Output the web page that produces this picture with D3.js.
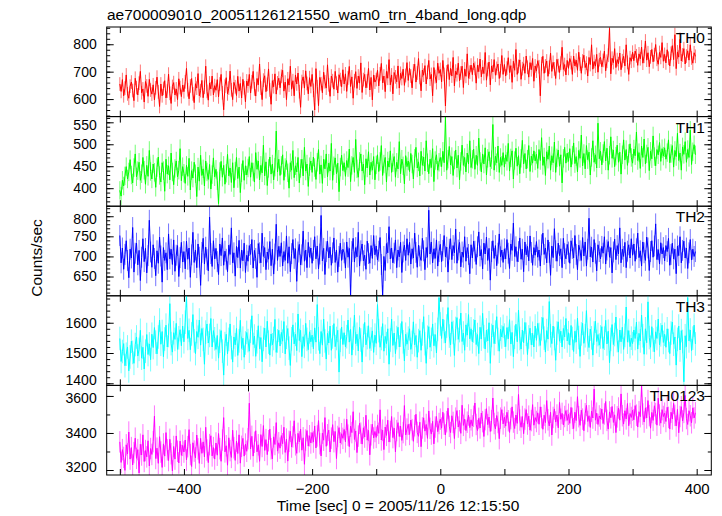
<!DOCTYPE html>
<html><head><meta charset="utf-8">
<script src="https://cdn.jsdelivr.net/npm/d3@7"></script>
<style>body{margin:0;background:#fff}text{font-family:"Liberation Sans",Arial,Helvetica,sans-serif;fill:#000}</style>
</head><body><svg id="c" width="722" height="516"></svg>
<script>
const chartTitle = "ae700009010_20051126121550_wam0_trn_4band_long.qdp";
const xLabel = "Time [sec] 0 = 2005/11/26 12:15:50";
const yLabel = "Counts/sec";
const tStart = -500, binSize = 2;
const seriesNames = ["TH0","TH1","TH2","TH3","TH0123"];
const seriesColors = ["#ff0000","#00ff00","#0000ff","#00ffff","#ff00ff"];
const errHalf = [25,21,26,39,58];
const yDomains = [[536,863],[359,563],[602,825],[1393,1689],[3173,3657]];
const yMajorStep = [100,50,50,100,200];
const yMinorStep = [20,10,10,20,100];
const xDomain = [-520.5,422.8];
const xTicks = [-500,-400,-300,-200,-100,0,100,200,300,400];
const xTickLabels = [-400,-200,0,200,400];

const th0 = [655,628,671,612,640,688,619,603,647,662,631,594,676,642,615,658,701,623,637,589,664,648,610,672,633,
618,652,597,641,680,626,573,655,612,639,667,604,629,691,621,584,646,660,615,637,598,674,642,609,651,
627,663,712,634,601,648,675,619,587,656,640,693,612,631,668,605,643,720,628,596,659,637,684,615,649,
632,671,608,655,690,623,561,647,678,619,640,702,634,598,661,645,613,683,629,657,604,672,641,590,666,
648,690,622,663,701,637,611,675,652,728,640,598,669,685,627,654,710,633,581,667,645,692,618,659,676,
641,683,705,629,662,598,674,651,720,636,667,612,688,655,695,627,570,664,681,640,703,657,619,678,646,
690,632,560,711,645,576,679,656,623,698,663,640,725,652,610,684,667,636,701,658,622,689,671,645,707,
655,692,628,677,719,646,681,603,667,700,639,684,658,732,624,671,690,641,666,712,633,679,597,688,662,
671,705,648,692,730,659,684,627,701,676,744,652,688,619,697,681,663,721,640,694,675,709,650,686,733,
668,712,684,641,703,727,662,695,748,679,630,706,687,722,655,698,741,673,690,612,715,682,660,731,694,
708,663,741,690,575,699,726,671,712,684,752,648,702,689,731,667,695,720,642,710,683,765,676,698,724,
689,731,712,658,724,700,746,681,717,693,770,669,708,735,652,721,699,744,687,712,728,675,703,759,690,
726,684,713,751,697,722,661,738,705,781,690,719,743,672,711,729,694,757,716,680,733,707,748,665,721,
702,740,718,612,729,756,694,721,739,683,716,768,701,734,710,675,745,722,697,731,789,708,726,688,741,
712,748,733,690,757,721,742,705,771,728,694,739,760,715,731,684,752,726,798,709,737,720,763,698,744,
752,718,741,775,703,738,760,858,692,749,733,784,715,744,729,768,707,740,756,721,798,734,690,751,738,
771,740,775,758,723,765,747,790,731,756,812,742,769,718,754,781,736,762,799,745,727,770,752,806,738,
763,732,780,749,721,767,795,744,835,711,772,753,818,739,761,784,728,757,776,742,798,750,731,769,756];

const th1 = [395,382,418,405,428,449,421,437,465,430,412,447,478,426,440,459,418,433,470,441,409,452,427,486,438,
421,455,436,402,447,471,429,414,458,440,393,466,432,451,419,480,437,408,445,462,426,441,490,417,449,
434,411,452,427,468,396,440,423,459,433,381,448,416,475,429,444,405,462,437,420,454,398,431,469,426,
443,417,365,438,461,425,452,409,434,477,428,446,413,458,401,439,470,422,448,390,435,463,418,451,430,
446,472,425,458,437,414,481,443,462,419,452,435,498,428,460,406,445,471,432,455,419,448,530,437,466,
429,452,476,418,447,463,435,400,458,441,486,424,451,437,470,412,445,466,428,493,439,455,404,449,462,
436,471,447,420,459,488,432,453,411,466,444,478,426,457,439,502,418,451,469,433,457,392,448,475,440,
458,427,463,447,489,415,452,470,436,511,444,425,461,478,439,455,408,467,446,483,430,459,441,472,419,
453,476,438,461,497,429,455,470,414,462,448,485,436,458,472,425,459,444,506,433,466,451,410,474,449,
462,438,479,455,421,468,493,446,460,428,484,452,471,439,508,458,433,466,447,490,415,463,476,441,459,
470,449,484,458,562,441,466,495,453,472,429,464,487,446,475,419,461,498,452,470,437,480,455,508,447,
466,489,443,475,452,514,461,437,478,455,492,430,468,483,449,465,545,441,473,458,496,436,470,452,481,
448,476,461,502,439,469,485,421,463,491,450,474,433,468,509,455,479,444,466,497,438,473,457,485,462,
477,445,488,463,515,452,471,429,483,466,496,441,474,458,505,436,469,487,450,476,412,468,493,457,480,
461,490,448,475,503,456,472,437,486,468,521,451,479,444,497,465,482,430,470,508,459,476,446,548,467,
484,453,479,506,462,491,441,475,517,468,487,449,473,498,459,482,432,476,510,464,488,452,479,501,470,
457,489,474,528,463,481,445,496,470,512,455,478,493,440,484,467,519,472,451,488,476,504,461,490,473,
492,466,481,510,458,479,497,448,486,472,525,463,480,441,494,477,506,459,488,470,532,454,483,499,476];

const th2 = [752,684,721,668,705,739,690,647,718,696,772,661,708,733,679,715,640,698,744,687,720,659,702,790,711,
673,729,695,652,714,683,748,701,636,722,690,709,667,756,694,718,680,741,663,703,727,650,697,735,686,
712,669,738,693,721,648,704,760,685,716,672,731,698,628,710,745,681,723,692,664,798,707,675,739,694,
720,687,655,731,702,746,678,713,693,662,728,705,771,684,709,651,725,697,740,671,716,689,733,660,703,
688,727,705,742,671,715,695,648,732,709,684,758,700,722,667,711,693,737,677,718,656,706,780,690,725,
700,734,676,712,690,751,683,724,662,707,742,695,719,638,711,730,679,704,763,688,716,672,735,698,721,
683,715,749,694,726,669,706,802,689,720,655,712,738,696,723,678,709,746,685,716,661,700,733,690,718,
709,671,736,698,720,604,712,745,686,722,699,760,676,714,731,689,703,668,738,707,683,727,695,752,704,
726,691,713,747,680,602,700,665,732,709,774,694,721,684,708,741,672,716,699,735,660,711,728,690,744,
703,735,681,719,696,758,710,673,728,701,690,745,714,667,722,698,815,706,736,684,719,695,741,676,712,
730,687,715,752,699,723,661,718,744,692,727,709,768,683,716,735,674,711,698,749,688,722,705,657,729,
696,738,713,680,724,761,701,717,669,733,706,748,690,720,641,712,739,695,727,677,708,756,699,716,685,
719,694,742,708,670,731,715,783,700,724,687,712,746,693,718,662,736,704,725,689,751,710,678,722,703,
737,698,716,676,729,758,705,721,684,741,710,653,726,697,769,714,688,733,702,719,672,745,707,694,730,
711,683,739,720,696,752,705,667,728,714,690,747,701,736,676,718,795,699,723,686,742,708,664,729,712,
694,725,708,749,681,716,737,698,722,659,711,743,692,727,706,771,684,718,700,735,672,713,729,696,744,
703,731,688,719,758,697,714,676,736,709,690,748,721,665,712,739,698,726,781,692,717,681,734,706,722,
689,727,712,745,678,705,733,694,718,657,726,702,749,684,715,738,696,721,670,709,742,691,718,700,712];

const th3 = [1548,1472,1505,1531,1458,1496,1520,1441,1487,1539,1502,1466,1528,1553,1490,1512,1575,1483,1519,1447,1506,1561,1495,1530,1478,
1562,1518,1584,1536,1497,1553,1609,1529,1571,1488,1546,1592,1520,1558,1663,1531,1503,1567,1545,1598,1512,1550,1577,1524,1589,
1537,1602,1690,1548,1575,1511,1563,1627,1540,1498,1571,1552,1609,1526,1581,1545,1463,1569,1596,1533,1558,1614,1520,1574,1547,
1512,1558,1483,1539,1574,1506,1427,1531,1562,1497,1545,1596,1518,1470,1553,1527,1581,1492,1540,1608,1515,1549,1486,1533,1568,
1541,1506,1572,1623,1528,1556,1489,1537,1590,1514,1551,1471,1545,1582,1520,1605,1536,1493,1563,1527,1548,1611,1502,1540,1575,
1523,1568,1539,1604,1497,1552,1581,1516,1459,1547,1593,1530,1562,1508,1629,1541,1575,1488,1554,1522,1598,1545,1511,1570,1537,
1559,1514,1583,1536,1660,1547,1498,1571,1526,1612,1540,1480,1565,1533,1589,1509,1553,1597,1521,1548,1575,1437,1542,1586,1528,
1567,1520,1554,1609,1536,1578,1493,1549,1625,1531,1562,1507,1585,1543,1470,1558,1601,1527,1551,1590,1515,1546,1573,1502,1559,
1532,1660,1574,1519,1548,1597,1506,1555,1531,1580,1463,1543,1612,1525,1566,1498,1551,1585,1520,1559,1604,1537,1474,1562,1529,
1549,1580,1512,1535,1603,1527,1558,1486,1541,1574,1509,1563,1620,1531,1466,1552,1587,1519,1545,1596,1524,1561,1500,1578,1683,
1596,1548,1612,1571,1533,1589,1650,1556,1527,1603,1568,1492,1581,1617,1545,1574,1632,1538,1566,1509,1593,1559,1627,1547,1580,
1537,1573,1609,1528,1561,1498,1585,1546,1631,1554,1513,1576,1540,1600,1466,1558,1592,1531,1569,1620,1545,1506,1579,1553,1588,
1559,1521,1584,1547,1610,1530,1568,1488,1552,1595,1537,1642,1548,1513,1576,1534,1601,1562,1495,1553,1582,1527,1565,1520,1589,
1542,1598,1561,1525,1580,1617,1549,1503,1574,1546,1670,1557,1531,1589,1548,1476,1566,1603,1539,1572,1520,1581,1553,1614,1540,
1567,1526,1591,1548,1505,1572,1536,1615,1551,1489,1563,1598,1532,1557,1640,1543,1518,1579,1550,1493,1566,1605,1538,1561,1526,
1553,1587,1515,1549,1608,1530,1572,1468,1545,1594,1528,1561,1619,1541,1503,1576,1537,1585,1512,1558,1652,1536,1574,1521,1549,
1531,1576,1548,1602,1513,1565,1540,1625,1557,1496,1580,1534,1669,1551,1519,1587,1543,1504,1570,1548,1612,1527,1560,1592,1535,
1562,1519,1580,1541,1498,1566,1602,1529,1553,1460,1545,1589,1510,1574,1538,1405,1557,1521,1683,1540,1576,1508,1549,1592,1530];

const th0123 = [3352,3241,3310,3268,3198,3336,3287,3405,3259,3321,3227,3294,3372,3263,3310,3184,3339,3281,3390,3246,3305,3271,3358,3222,3316,
3284,3353,3491,3262,3318,3236,3380,3297,3214,3341,3275,3402,3309,3251,3366,3288,3195,3327,3259,3384,3301,3238,3356,3279,3333,
3297,3362,3254,3326,3418,3283,3219,3347,3302,3265,3389,3314,3236,3371,3290,3352,3271,3431,3308,3240,3337,3385,3276,3321,3259,
3346,3280,3397,3315,3247,3362,3483,3298,3331,3226,3374,3305,3268,3415,3320,3252,3356,3289,3390,3237,3328,3371,3275,3340,3301,
3369,3561,3314,3382,3275,3350,3412,3298,3336,3247,3391,3327,3440,3306,3364,3283,3358,3421,3315,3260,3379,3338,3456,3302,3347,
3318,3386,3342,3431,3295,3367,3248,3355,3409,3324,3379,3466,3336,3290,3398,3352,3421,3307,3374,3231,3362,3413,3329,3385,3346,
3402,3351,3438,3319,3384,3467,3342,3276,3399,3361,3483,3328,3390,3415,3297,3372,3445,3353,3408,3262,3381,3429,3346,3396,3371,
3419,3352,3474,3388,3326,3437,3402,3515,3365,3411,3294,3383,3452,3399,3340,3428,3378,3496,3361,3414,3282,3390,3447,3373,3408,
3376,3441,3398,3525,3362,3415,3310,3432,3387,3469,3351,3408,3489,3375,3426,3298,3413,3456,3381,3437,3360,3402,3548,3389,3421,
3447,3392,3470,3418,3355,3439,3501,3403,3382,3458,3326,3427,3482,3410,3446,3371,3519,3425,3394,3463,3341,3432,3489,3407,3451,
3475,3426,3512,3448,3389,3461,3534,3436,3402,3493,3457,3370,3480,3521,3432,3466,3398,3550,3441,3475,3413,3458,3497,3429,3471,
3438,3490,3562,3446,3413,3479,3427,3508,3461,3381,3472,3531,3445,3486,3408,3467,3589,3451,3422,3494,3457,3369,3480,3526,3449,
3485,3437,3512,3466,3403,3478,3541,3459,3424,3497,3452,3608,3470,3431,3489,3396,3475,3526,3448,3491,3415,3467,3553,3442,3483,
3462,3509,3447,3541,3483,3420,3496,3456,3575,3471,3438,3512,3389,3484,3530,3459,3497,3428,3565,3474,3506,3443,3489,3521,3468,
3501,3452,3538,3479,3424,3512,3467,3596,3488,3441,3523,3475,3412,3504,3549,3462,3493,3430,3518,3481,3637,3469,3507,3446,3492,
3476,3529,3451,3503,3570,3468,3421,3514,3482,3543,3457,3498,3402,3487,3535,3469,3611,3493,3448,3520,3476,3559,3439,3505,3484,
3523,3471,3548,3496,3432,3515,3488,3654,3502,3459,3536,3481,3575,3494,3426,3511,3468,3547,3505,3442,3588,3497,3453,3526,3489,
3507,3462,3539,3484,3421,3512,3476,3560,3495,3438,3527,3401,3489,3542,3465,3511,3603,3478,3446,3520,3493,3455,3536,3481,3509];

const allSeries = [th0, th1, th2, th3, th0123];

const svg = d3.select("#c");
const L = 106.7, R = 711.3, T = 27, B = 475;
const H = (B - T) / allSeries.length;
const x = d3.scaleLinear().domain(xDomain).range([L, R]);
const FONT = '"Liberation Sans",Arial,Helvetica,sans-serif';

function styleAxis(s, size) {
  s.attr("font-size", null).attr("font-family", null);
  s.select(".domain").remove();
  s.selectAll("line").attr("stroke", "#000");
  s.selectAll("text").attr("fill", "#000").style("font-family", FONT).style("font-size", size);
}

allSeries.forEach((vals, k) => {
  const top = T + k * H, bot = top + H;
  const y = d3.scaleLinear().domain(yDomains[k]).range([bot, top]);
  const pts = vals.map((v, i) => ({t: tStart + i * binSize, v}));
  const cid = "clip" + k;
  svg.append("clipPath").attr("id", cid).append("rect")
    .attr("x", L).attr("y", top).attr("width", R - L).attr("height", H);
  const g = svg.append("g").attr("clip-path", `url(#${cid})`);
  const e = errHalf[k];
  g.selectAll("line.err").data(pts).join("line").attr("class", "err")
    .attr("x1", d => x(d.t)).attr("x2", d => x(d.t))
    .attr("y1", d => y(d.v - e)).attr("y2", d => y(d.v + e))
    .attr("stroke", seriesColors[k]).attr("stroke-opacity", 0.55).attr("stroke-width", 1);
  g.append("path").datum(pts)
    .attr("d", d3.line().x(d => x(d.t)).y(d => y(d.v)))
    .attr("fill", "none").attr("stroke", seriesColors[k]).attr("stroke-width", 1);

  const [y0, y1] = yDomains[k];
  const majors = d3.range(Math.ceil(y0 / yMajorStep[k]) * yMajorStep[k], y1 + 1e-9, yMajorStep[k]);
  const minors = d3.range(Math.ceil(y0 / yMinorStep[k]) * yMinorStep[k], y1 + 1e-9, yMinorStep[k]);
  const ax = svg.append("g");
  const gl = ax.append("g").attr("transform", `translate(${L},0)`)
    .call(d3.axisLeft(y).tickValues(majors).tickSizeInner(-7).tickSizeOuter(0).tickPadding(10).tickFormat(d3.format("d")));
  const glm = ax.append("g").attr("transform", `translate(${L},0)`)
    .call(d3.axisLeft(y).tickValues(minors).tickSizeInner(-3.5).tickSizeOuter(0).tickFormat(""));
  const gr = ax.append("g").attr("transform", `translate(${R},0)`)
    .call(d3.axisLeft(y).tickValues(majors).tickSizeInner(7).tickSizeOuter(0).tickFormat(""));
  const grm = ax.append("g").attr("transform", `translate(${R},0)`)
    .call(d3.axisLeft(y).tickValues(minors).tickSizeInner(3.5).tickSizeOuter(0).tickFormat(""));
  const gt = ax.append("g").attr("transform", `translate(0,${top})`)
    .call(d3.axisTop(x).tickValues(xTicks).tickSizeInner(-6).tickSizeOuter(0).tickFormat(""));
  const gb = ax.append("g").attr("transform", `translate(0,${bot})`)
    .call(d3.axisBottom(x).tickValues(xTicks).tickSizeInner(-6).tickSizeOuter(0).tickFormat(""));
  [gl, glm, gr, grm, gt, gb].forEach(s => styleAxis(s, "14px"));
  // keep labels sitting on a panel boundary clear of the neighbouring panel's label
  gl.selectAll("text").attr("y", function(d) {
    const py = y(d);
    if (py > bot - 5) return -3;
    if (py < top + 12) return 2.5;
    return 0;
  });

  svg.append("rect").attr("x", L).attr("y", top).attr("width", R - L).attr("height", H)
    .attr("fill", "none").attr("stroke", "#000").attr("stroke-width", 1);

  svg.append("text").attr("x", 705).attr("y", top + 16).attr("text-anchor", "end")
    .style("font-size", "15.5px").text(seriesNames[k]);
});

const gx = svg.append("g").attr("transform", `translate(0,${B})`)
  .call(d3.axisBottom(x).tickValues(xTickLabels).tickSizeInner(0).tickSizeOuter(0).tickPadding(8)
    .tickFormat(d => d < 0 ? "\u2212" + Math.abs(d) : String(d)));
styleAxis(gx, "15px");

svg.append("text").attr("x", 107).attr("y", 20).style("font-size", "15.5px").text(chartTitle);
svg.append("text").attr("x", 398).attr("y", 511).attr("text-anchor", "middle").style("font-size", "15.5px").text(xLabel);
svg.append("text").attr("transform", "translate(42,258) rotate(-90)").attr("text-anchor", "middle")
  .style("font-size", "15.5px").text(yLabel);
</script></body></html>
